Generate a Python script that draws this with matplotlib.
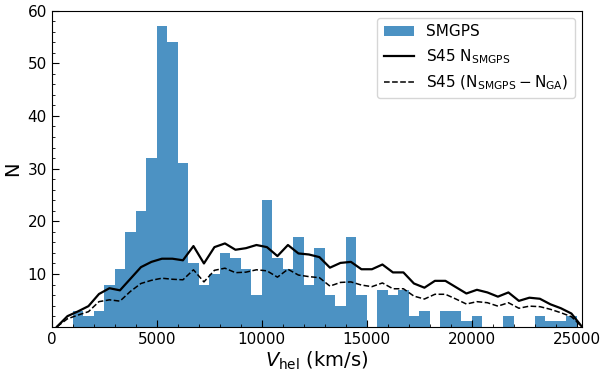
import matplotlib
matplotlib.use("Agg")
import matplotlib.pyplot as plt
from matplotlib.ticker import MultipleLocator

# Histogram bins (left edges, km/s) and counts
bin_left = list(range(1000, 25000, 500))
smgps_counts = [3, 2, 3, 8, 11, 18, 22, 32, 57, 54, 31, 12, 8, 10, 14, 13, 11, 6,
                24, 13, 11, 17, 8, 15, 6, 4, 17, 6, 0, 7, 6, 7, 2, 3, 0, 3, 3, 1,
                2, 0, 0, 2, 0, 0, 2, 1, 1, 2]

# S45 curves at bin centres
s45_x = list(range(250, 25251, 500))
s45_smgps = [0, 2.0, 2.9, 3.9, 6.2, 7.3, 6.9, 9.1, 11.3, 12.3, 12.9, 12.9, 12.6,
             15.3, 12.0, 15.1, 15.8, 14.6, 14.9, 15.5, 15.1, 13.4, 15.5, 13.9,
             13.7, 13.2, 11.2, 12.1, 12.3, 10.9, 10.9, 11.8, 10.3, 10.3, 8.2, 7.4,
             8.7, 8.7, 7.5, 6.3, 7.0, 6.5, 5.7, 6.5, 4.9, 5.5, 5.3, 4.25, 3.5, 2.5, 0]
s45_smgps_minus_ga = [0, 1.5, 2.2, 2.85, 4.75, 5.1, 4.85, 6.7, 8.2, 8.8, 9.2, 9.0,
                      8.9, 10.8, 8.5, 10.7, 11.1, 10.25, 10.35, 10.8, 10.6, 9.4,
                      10.9, 9.8, 9.5, 9.3, 7.7, 8.4, 8.5, 7.9, 7.6, 8.3, 7.2, 7.2,
                      5.8, 5.25, 6.15, 6.15, 5.25, 4.3, 4.75, 4.55, 3.9, 4.55, 3.5,
                      3.9, 3.8, 3.3, 2.65, 1.9, 0]

y_ticks = [10, 20, 30, 40, 50, 60]
x_ticks = [0, 5000, 10000, 15000, 20000, 25000]

fig = plt.figure(figsize=(6.02, 3.74), dpi=100)
ax = fig.add_axes([0.0859, 0.1265, 0.8814, 0.8454])

bars = ax.bar(bin_left, smgps_counts, width=500, align='edge', color='#1f77b4',
              alpha=0.8, label='SMGPS')
l1, = ax.plot(s45_x, s45_smgps, color='black', lw=1.6, label=r'S45 N$_{\rm SMGPS}$')
l2, = ax.plot(s45_x, s45_smgps_minus_ga, color='black', lw=1.1, ls='--',
              label=r'S45 (N$_{\rm SMGPS}-$N$_{\rm GA}$)')

ax.set_xlim(0, 25270)
ax.set_ylim(0, 60)
ax.set_xticks(x_ticks)
ax.set_yticks(y_ticks)
ax.xaxis.set_minor_locator(MultipleLocator(1000))
ax.yaxis.set_minor_locator(MultipleLocator(2))
ax.tick_params(which='both', direction='in', labelsize=11)
ax.tick_params(which='major', length=5)
ax.tick_params(which='minor', length=2.5)

ax.set_xlabel(r'$V_{\rm hel}$ (km/s)', fontsize=14, labelpad=2)
ax.set_ylabel('N', fontsize=14)

ax.legend(handles=[bars, l1, l2], loc='upper right', fontsize=11, handlelength=2.0)

fig.savefig('out.png', dpi=100)
